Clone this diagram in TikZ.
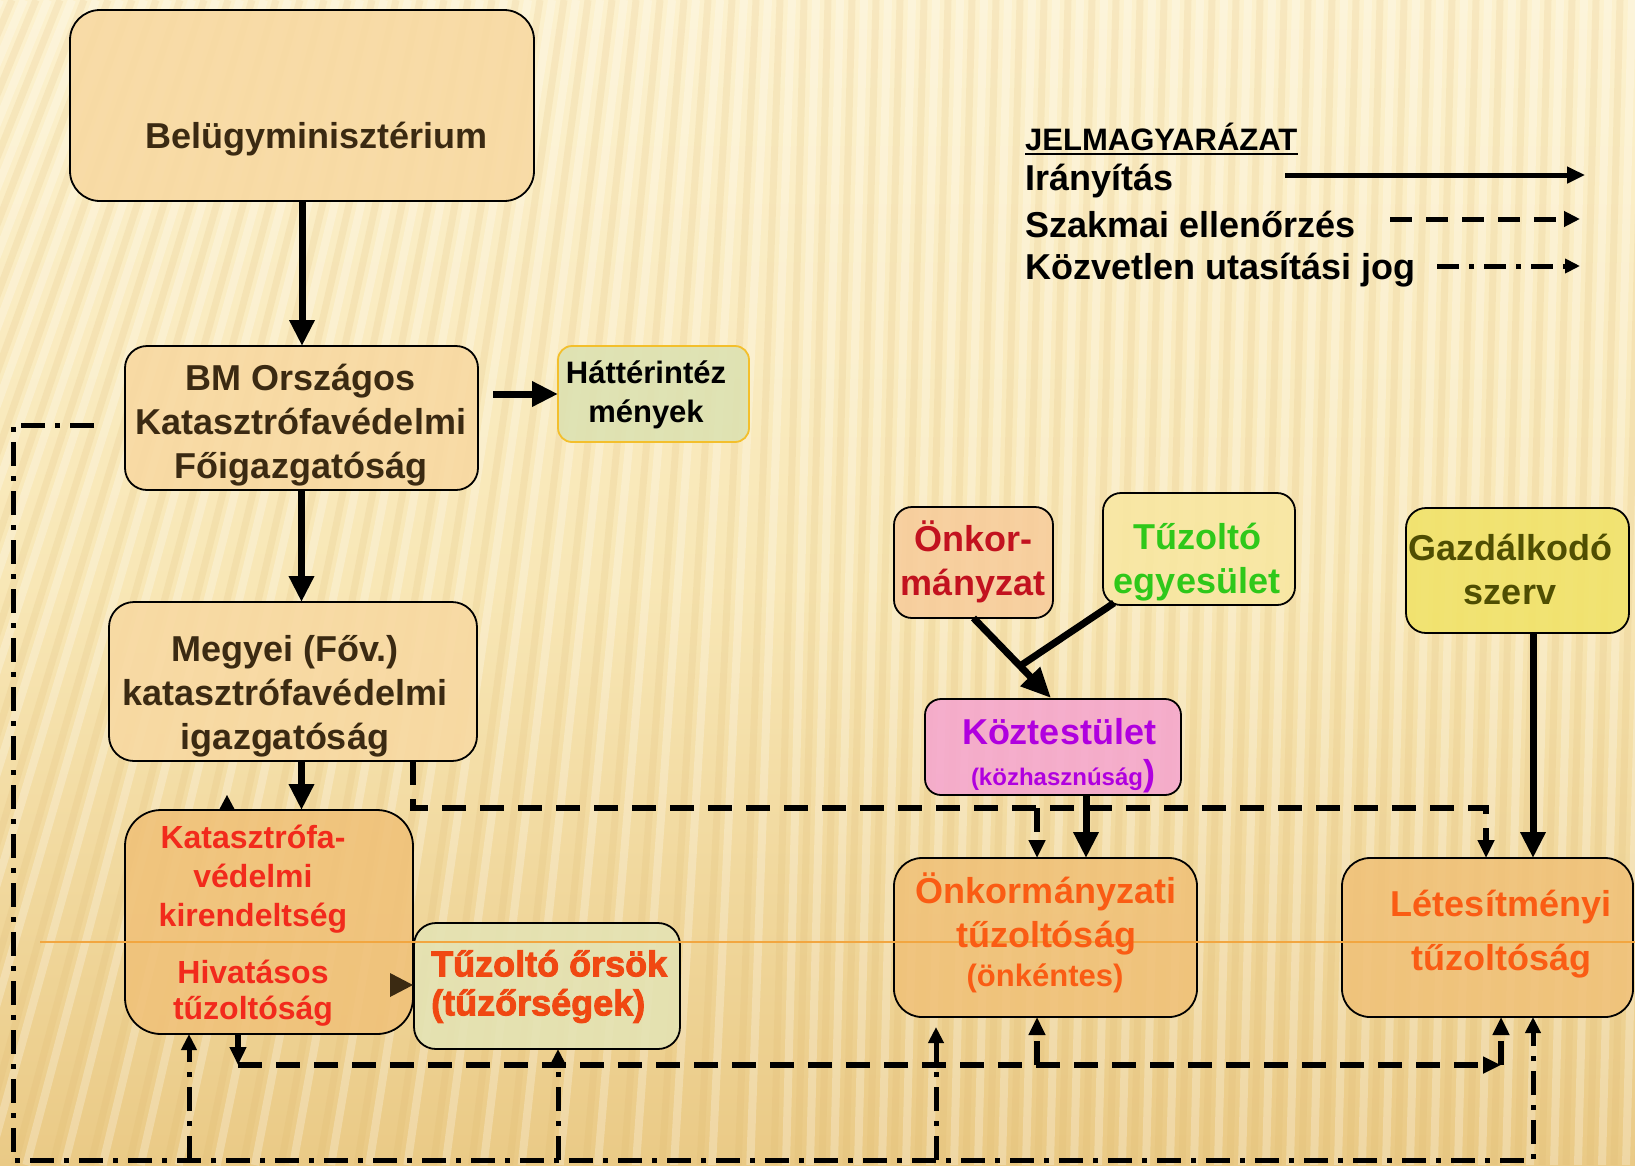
\documentclass[tikz,border=0pt]{standalone}
\usepackage{fontspec}
\setmainfont{Liberation Sans}
\newfontfamily\heavyfont{Liberation Sans}[BoldFeatures={FakeBold=2.5}]
\usetikzlibrary{arrows.meta,calc}

\definecolor{bgtop}{HTML}{FCF1CE}
\definecolor{bgmid}{HTML}{F8E7B6}
\definecolor{bgbot}{HTML}{EACA86}
\definecolor{stripedark}{HTML}{D9B064}
\definecolor{boxA}{HTML}{F8D9A2}
\definecolor{boxB}{HTML}{F0C27A}
\definecolor{htfill}{HTML}{DDE2B2}
\definecolor{htdraw}{HTML}{F3BF2C}
\definecolor{torfill}{HTML}{E4E3B4}
\definecolor{onkfill}{HTML}{F7CD9C}
\definecolor{egyfill}{HTML}{F8E7A2}
\definecolor{koztfill}{HTML}{F5A8CE}
\definecolor{gazfill}{HTML}{F1E36A}
\definecolor{txtbrown}{HTML}{3B2A12}
\definecolor{txtred}{HTML}{F22A1C}
\definecolor{txtor}{HTML}{F04812}
\definecolor{txtorange}{HTML}{FA5C14}
\definecolor{txtonk}{HTML}{C2121F}
\definecolor{txtgreen}{HTML}{2FC81A}
\definecolor{txtpurple}{HTML}{B000DF}
\definecolor{txtolive}{HTML}{4F4E02}
\definecolor{orline}{HTML}{F2A640}

\tikzset{
  boxbase/.style={draw=black, line width=1.8pt, inner sep=0pt, outer sep=0pt, fill opacity=0.9},
  t36/.style={font=\bfseries\fontsize{36}{44}\selectfont, align=center, inner sep=0pt},
  t32/.style={font=\bfseries\fontsize{32}{39}\selectfont, align=center, inner sep=0pt},
  ctrl/.style={line width=7pt, -{Triangle[length=26pt,width=24pt]}},
  szak/.style={line width=5.5pt, dash pattern=on 24pt off 14pt, -{Triangle[length=18pt,width=16pt]}},
  kozv/.style={line width=5pt, dash pattern=on 24pt off 10pt on 5pt off 10pt, -{Triangle[length=16pt,width=15pt]}},
  legsolid/.style={line width=5pt, -{Triangle[length=18pt,width=16pt]}},
  legdash/.style={line width=5pt, dash pattern=on 22pt off 14pt, -{Triangle[length=16pt,width=15pt]}},
  legdd/.style={line width=5pt, dash pattern=on 22pt off 10pt on 5pt off 10pt, -{Triangle[length=15pt,width=14pt]}},
  legtext/.style={font=\bfseries\fontsize{36}{44}\selectfont, inner sep=0pt, anchor=west},
}

\begin{document}
\begin{tikzpicture}[x=1pt,y=-1pt]
\useasboundingbox (0,0) rectangle (1635,1165);

% background
\begin{scope}
\clip (0,0) rectangle (1635,1165);
\shade[top color=bgtop, bottom color=bgbot, middle color=bgmid] (0,0) rectangle (1635,1165);
\foreach \i in {0,...,76}{
  \pgfmathsetmacro\xt{\i*24-60}
  \pgfmathsetmacro\sl{30+470*max(0,1-\xt/800)}
  \draw[stripedark, opacity=0.14, line width=7pt] (\xt,0) -- ({\xt-\sl},1165);
  \draw[white, opacity=0.25, line width=8pt] ({\xt+12},0) -- ({\xt+12-\sl},1165);
}
\end{scope}

% boxes
\node[boxbase, fill=boxA, rounded corners=30pt, minimum width=464pt, minimum height=191pt] (bel) at (302,105.5) {};
\node[boxbase, fill=boxA, rounded corners=22pt, minimum width=353pt, minimum height=144pt] (bm) at (301.5,418) {};
\node[boxbase, draw=htdraw, fill=htfill, rounded corners=14pt, minimum width=191pt, minimum height=96pt] (ht) at (653.5,394) {};
\node[boxbase, fill=boxA, rounded corners=25pt, minimum width=368pt, minimum height=159pt] (mg) at (293,681.5) {};
\node[boxbase, fill=boxB, rounded corners=36pt, minimum width=288pt, minimum height=224pt] (kat) at (269,922) {};
\node[boxbase, fill=torfill, rounded corners=22pt, minimum width=266pt, minimum height=126pt] (tor) at (547,986) {};
\node[boxbase, fill=onkfill, rounded corners=18pt, minimum width=159pt, minimum height=111pt] (onk) at (973.5,562.5) {};
\node[boxbase, fill=egyfill, rounded corners=18pt, minimum width=192pt, minimum height=112pt] (egy) at (1199,549) {};
\node[boxbase, fill=koztfill, rounded corners=16pt, minimum width=256pt, minimum height=96pt] (kozt) at (1053,747) {};
\node[boxbase, fill=boxB, rounded corners=28pt, minimum width=303pt, minimum height=159pt] (ot) at (1045.5,937.5) {};
\node[boxbase, fill=gazfill, rounded corners=20pt, minimum width=223pt, minimum height=125pt] (gaz) at (1517.5,570.5) {};
\node[boxbase, fill=boxB, rounded corners=28pt, minimum width=291pt, minimum height=159pt] (let) at (1487.5,937.5) {};

% thin orange guide line
\draw[orline, line width=1.5pt] (40,942) -- (1635,942);

% solid (Iranyitas) connectors
\draw[ctrl] (bel.south) -- (bel.south |- bm.north);
\draw[ctrl] (bm.south) -- (bm.south |- mg.north);
\draw[ctrl] (bm.south |- mg.south) -- (bm.south |- kat.north);
\draw[ctrl] ([xshift=15pt]bm.east |- ht.west) -- (ht.west);
\coordinate (koztIn) at ($(kozt.north west)+(126,-1)$);
\coordinate (joint) at ($(onk.south)!0.6!(koztIn)$);
\draw[line width=7pt, -{Triangle[length=30pt,width=26pt]}] (onk.south) -- (koztIn);
\draw[line width=7pt] ($(egy.south west)+(11,-2)$) -- (joint);
\coordinate (koztOut) at ($(kozt.south west)+(161,0)$);
\draw[ctrl] (koztOut) -- (koztOut |- ot.north);
\coordinate (gazOut) at ($(gaz.south)+(15.5,0)$);
\draw[ctrl] (gazOut) -- (gazOut |- let.north);

% dashed (Szakmai ellenorzes) connectors
\coordinate (mgOut) at ($(mg.south west)+(304,0)$);
\coordinate (otIn) at ($(ot.north west)+(143,0)$);
\coordinate (letIn) at ($(let.north west)+(144,0)$);
\coordinate (busA) at ($(otIn)+(0,-50)$);
\draw[szak] (mgOut) |- (busA) -| (letIn);
\draw[szak] (busA) -- (otIn);

\coordinate (katOut) at ($(kat.south west)+(113,0)$);
\coordinate (letIn2) at ($(let.south west)+(159,0)$);
\coordinate (otIn2) at ($(ot.south west)+(143,0)$);
\coordinate (busB) at ($(katOut)+(0,31)$);
\draw[szak] (katOut) -- (busB);
\draw[szak] (busB) -- (busB -| letIn2);
\draw[szak] (busB -| letIn2) -- (letIn2);
\draw[szak] (busB -| otIn2) -- (otIn2);

% dash-dot (Kozvetlen utasitasi jog) connectors
\coordinate (kvStart) at ($(bm.west)+(-31,7)$);
\coordinate (busBL) at (13,1160);
\coordinate (letIn3) at ($(let.south west)+(191,0)$);
\coordinate (katIn) at ($(kat.south west)+(64,0)$);
\coordinate (torIn) at ($(tor.south)+(11,0)$);
\coordinate (otIn3) at ($(ot.south west)+(42,10)$);
\draw[kozv] (kvStart) -| (busBL) -| (letIn3);
\draw[kozv] (busBL -| katIn) -- (katIn);
\draw[kozv] (busBL -| torIn) -- (torIn);
\draw[kozv] (busBL -| otIn3) -- (otIn3);

% isolated arrow tips
\fill[black] ($(kat.north west)+(94,0)$) -- ++(16,0) -- ++(-8,-15) -- cycle;
\fill[txtbrown] ($(tor.west)+(-24,-13)$) -- ++(23,12) -- ++(-23,12) -- cycle;

% texts
\node[t36, text=txtbrown] (belT) at (316.5,139) {Belügyminisztérium};
\node[t36, text=txtbrown] (bmT) at (301,425) {BM Országos\\Katasztrófavédelmi\\Főigazgatóság};
\node[font=\bfseries\fontsize{31}{39}\selectfont, align=center, inner sep=0pt, text=black] (htT) at (646,394.5) {Háttérintéz\\mények};
\node[t36, text=txtbrown] (mgT) at (285,696) {Megyei (Főv.)\\katasztrófavédelmi\\igazgatóság};
\node[t32, text=txtred] (katT1) at (253,879) {Katasztrófa-\\védelmi\\kirendeltség};
\node[font=\bfseries\fontsize{32}{36}\selectfont, align=center, inner sep=0pt, text=txtred] (katT2) at (253,993) {Hivatásos\\tűzoltóság};
\node[font=\heavyfont\bfseries\fontsize{36}{39}\selectfont, align=left, inner sep=0pt, text=txtor, anchor=west] (torT) at (431,986.5) {Tűzoltó őrsök\\(tűzőrségek)};
\node[t36, text=txtonk] (onkT) at (973,562) {Önkor-\\mányzat};
\node[t36, text=txtgreen] (egyT) at (1197,562) {Tűzoltó\\egyesület};
\node[t36, text=txtpurple] (koztT1) at (1059,732) {Köztestület};
\node[font=\bfseries\fontsize{24}{28}\selectfont, inner sep=0pt, text=txtpurple] (koztT2) at (1063,776) {(közhasznúság{\fontsize{36}{40}\selectfont)}};
\node[t36, text=txtorange] (otT1) at (1046,913.5) {Önkormányzati\\tűzoltóság};
\node[font=\bfseries\fontsize{31}{36}\selectfont, inner sep=0pt, text=txtorange] (otT2) at (1045,978) {(önkéntes)};
\node[t36, text=txtolive] (gazT) at (1510,569) {Gazdálkodó\\szerv};
\node[font=\bfseries\fontsize{36}{54}\selectfont, align=center, inner sep=0pt, text=txtorange] (letT) at (1501,934) {Létesítményi\\tűzoltóság};

% legend
\node[font=\bfseries\fontsize{31}{36}\selectfont, inner sep=0pt, anchor=west] (lgT) at (1025,137) {JELMAGYARÁZAT};
\draw[line width=2pt] ([yshift=-3pt]lgT.south west) -- ([yshift=-3pt]lgT.south east);
\node[legtext] (lg1) at (1025,181) {Irányítás};
\node[legtext] (lg2) at (1025,224) {Szakmai ellenőrzés};
\node[legtext] (lg3) at (1025,270) {Közvetlen utasítási jog};
\coordinate (lsA) at (1285,175); \coordinate (leA) at (1585,175);
\coordinate (lsB) at (1390,219); \coordinate (leB) at (1580,219);
\coordinate (lsC) at (1437,266); \coordinate (leC) at (1580,266);
\draw[legsolid] (lsA) -- (leA);
\draw[legdash] (lsB) -- (leB);
\draw[legdd] (lsC) -- (leC);
\end{tikzpicture}
\end{document}
